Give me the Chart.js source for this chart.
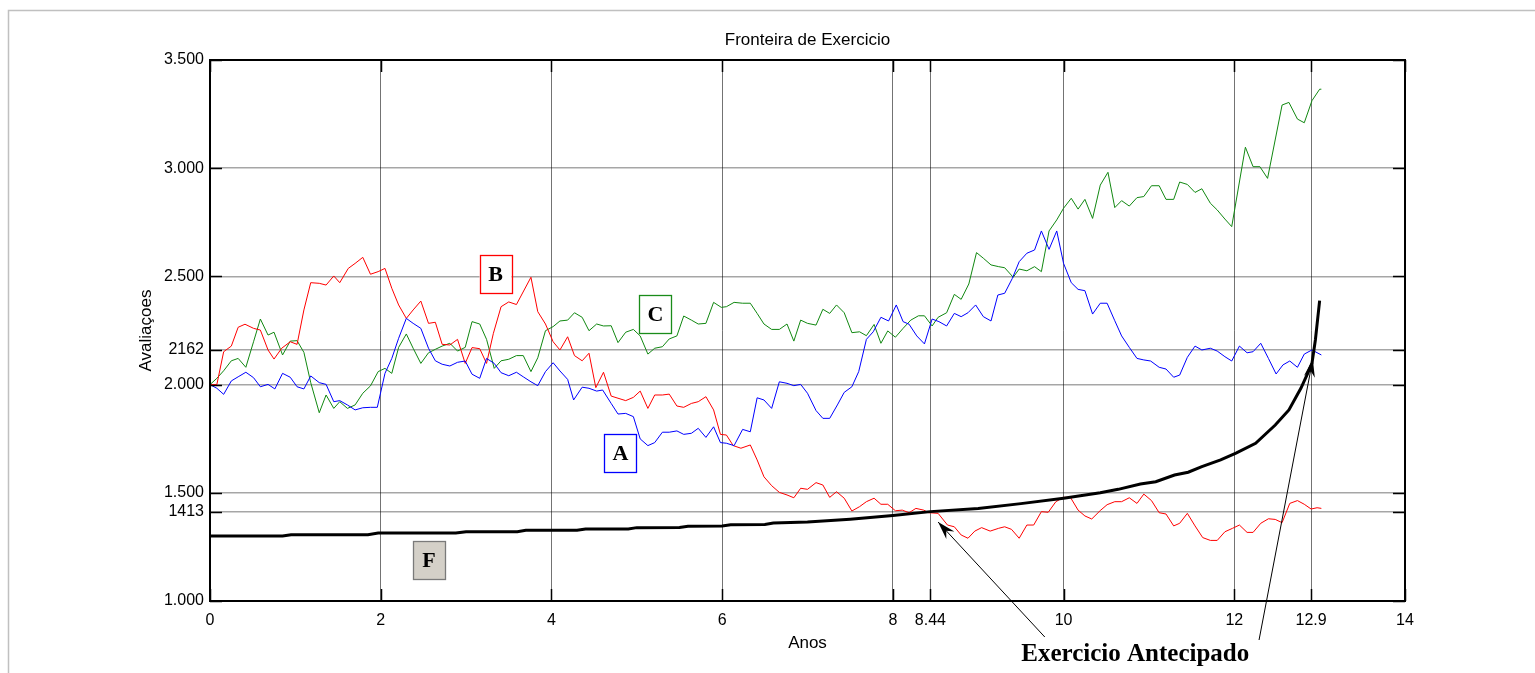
<!DOCTYPE html>
<html>
<head>
<meta charset="utf-8">
<title>Fronteira de Exercicio</title>
<script src="https://cdn.jsdelivr.net/npm/chart.js@4.4.1/dist/chart.umd.min.js"></script>
<style>
  html, body { margin: 0; padding: 0; background: #fff; }
  #wrap { width: 1535px; height: 673px; position: relative; }
</style>
</head>
<body>
<div id="wrap"><canvas id="fronteiraChart"></canvas></div>
<script>
// Axis ticks
const xTickValues = [0, 2, 4, 6, 8, 8.44, 10, 12, 12.9, 14];
const xTickLabels = ['0', '2', '4', '6', '8', '8.44', '10', '12', '12.9', '14'];
const yTickValues = [1000, 1413, 1500, 2000, 2162, 2500, 3000, 3500];
const yTickLabels = ['1.000', '1413', '1.500', '2.000', '2162', '2.500', '3.000', '3.500'];

// Path B (red)
const pathBX = [0, 0.08, 0.16, 0.25, 0.33, 0.41, 0.51, 0.59, 0.68, 0.75, 0.84, 0.94, 1.02, 1.1, 1.18, 1.28, 1.36, 1.45, 1.52, 1.62, 1.7, 1.79, 1.88, 1.97, 2.05, 2.13, 2.21, 2.3, 2.38, 2.47, 2.56, 2.64, 2.72, 2.81, 2.9, 2.99, 3.07, 3.16, 3.24, 3.32, 3.41, 3.5, 3.59, 3.76, 3.84, 3.93, 4.02, 4.1, 4.19, 4.27, 4.36, 4.44, 4.52, 4.61, 4.7, 4.78, 4.87, 4.96, 5.04, 5.13, 5.21, 5.3, 5.38, 5.47, 5.55, 5.64, 5.72, 5.81, 5.9, 5.98, 6.05, 6.13, 6.22, 6.33, 6.41, 6.49, 6.58, 6.67, 6.76, 6.84, 6.92, 7.0, 7.1, 7.18, 7.26, 7.34, 7.43, 7.52, 7.61, 7.69, 7.78, 7.86, 7.94, 8.03, 8.11, 8.19, 8.27, 8.36, 8.42, 8.53, 8.64, 8.72, 8.8, 8.88, 8.96, 9.04, 9.14, 9.24, 9.31, 9.39, 9.48, 9.57, 9.65, 9.74, 9.82, 9.91, 10.0, 10.08, 10.17, 10.25, 10.33, 10.43, 10.51, 10.6, 10.68, 10.77, 10.86, 10.94, 11.03, 11.12, 11.2, 11.29, 11.36, 11.45, 11.54, 11.63, 11.72, 11.8, 11.89, 11.98, 12.06, 12.15, 12.22, 12.31, 12.4, 12.48, 12.56, 12.65, 12.74, 12.82, 12.9, 12.97, 13.02];
const pathBY = [2000, 2000, 2152, 2178, 2265, 2279, 2260, 2252, 2160, 2118, 2168, 2198, 2186, 2345, 2471, 2468, 2460, 2502, 2471, 2537, 2560, 2588, 2510, 2522, 2537, 2445, 2368, 2306, 2345, 2386, 2283, 2288, 2186, 2183, 2209, 2098, 2171, 2166, 2098, 2237, 2360, 2382, 2370, 2496, 2337, 2280, 2198, 2160, 2221, 2134, 2110, 2145, 1986, 2057, 1947, 1937, 1926, 1941, 1970, 1890, 1952, 1952, 1956, 1901, 1895, 1913, 1921, 1944, 1883, 1770, 1767, 1718, 1706, 1721, 1652, 1574, 1533, 1502, 1490, 1477, 1521, 1516, 1547, 1536, 1479, 1505, 1475, 1416, 1436, 1459, 1475, 1447, 1447, 1417, 1420, 1408, 1428, 1420, 1408, 1405, 1351, 1343, 1305, 1290, 1323, 1339, 1323, 1336, 1343, 1331, 1290, 1351, 1351, 1413, 1410, 1459, 1479, 1479, 1420, 1393, 1379, 1418, 1445, 1459, 1459, 1477, 1451, 1494, 1464, 1408, 1402, 1347, 1359, 1405, 1347, 1293, 1280, 1280, 1320, 1336, 1351, 1317, 1317, 1359, 1380, 1377, 1362, 1451, 1464, 1447, 1425, 1431, 1428];

// Path C (green)
const pathCX = [0, 0.08, 0.16, 0.25, 0.33, 0.42, 0.51, 0.59, 0.68, 0.75, 0.85, 0.94, 1.02, 1.1, 1.18, 1.28, 1.36, 1.45, 1.52, 1.61, 1.7, 1.79, 1.88, 1.97, 2.05, 2.13, 2.21, 2.3, 2.38, 2.47, 2.56, 2.64, 2.72, 2.81, 2.9, 2.99, 3.07, 3.16, 3.24, 3.33, 3.41, 3.5, 3.59, 3.67, 3.76, 3.84, 3.93, 4.02, 4.1, 4.19, 4.27, 4.36, 4.44, 4.53, 4.61, 4.7, 4.78, 4.87, 4.96, 5.04, 5.13, 5.21, 5.3, 5.38, 5.47, 5.55, 5.64, 5.72, 5.81, 5.9, 5.99, 6.05, 6.14, 6.24, 6.33, 6.41, 6.49, 6.58, 6.67, 6.76, 6.84, 6.92, 7.0, 7.1, 7.18, 7.26, 7.34, 7.43, 7.52, 7.61, 7.69, 7.78, 7.86, 7.94, 8.03, 8.12, 8.21, 8.3, 8.37, 8.46, 8.53, 8.63, 8.72, 8.8, 8.89, 8.98, 9.06, 9.15, 9.24, 9.31, 9.41, 9.48, 9.57, 9.66, 9.74, 9.83, 9.92, 10.0, 10.09, 10.17, 10.25, 10.34, 10.43, 10.52, 10.6, 10.68, 10.77, 10.86, 10.94, 11.03, 11.12, 11.2, 11.29, 11.36, 11.45, 11.54, 11.62, 11.72, 11.8, 11.89, 11.97, 12.13, 12.22, 12.3, 12.39, 12.56, 12.64, 12.74, 12.82, 12.91, 13.0, 13.02];
const pathCY = [2000, 2029, 2064, 2110, 2121, 2080, 2198, 2303, 2229, 2242, 2137, 2201, 2203, 2149, 2009, 1870, 1952, 1890, 1921, 1890, 1906, 1960, 1994, 2060, 2075, 2052, 2172, 2234, 2168, 2098, 2147, 2163, 2178, 2191, 2155, 2172, 2291, 2280, 2209, 2075, 2110, 2117, 2134, 2134, 2060, 2124, 2249, 2268, 2294, 2298, 2332, 2311, 2249, 2280, 2271, 2272, 2194, 2242, 2255, 2225, 2141, 2168, 2175, 2211, 2225, 2317, 2298, 2280, 2283, 2380, 2357, 2360, 2380, 2376, 2376, 2329, 2280, 2255, 2255, 2280, 2201, 2298, 2283, 2275, 2348, 2329, 2368, 2332, 2240, 2244, 2226, 2278, 2191, 2248, 2219, 2260, 2298, 2318, 2318, 2271, 2311, 2332, 2417, 2394, 2465, 2610, 2584, 2553, 2545, 2540, 2496, 2534, 2526, 2545, 2522, 2710, 2761, 2815, 2861, 2811, 2856, 2768, 2922, 2981, 2818, 2850, 2825, 2864, 2869, 2919, 2919, 2856, 2856, 2936, 2925, 2888, 2905, 2838, 2807, 2765, 2730, 3097, 3007, 3007, 2953, 3292, 3304, 3227, 3210, 3312, 3365, 3365];

// Path A (blue)
const pathAX = [0, 0.08, 0.16, 0.25, 0.33, 0.42, 0.51, 0.59, 0.68, 0.76, 0.85, 0.94, 1.02, 1.1, 1.18, 1.28, 1.36, 1.45, 1.52, 1.61, 1.7, 1.79, 1.88, 1.96, 2.05, 2.13, 2.21, 2.3, 2.38, 2.47, 2.56, 2.64, 2.72, 2.81, 2.9, 2.99, 3.07, 3.16, 3.24, 3.33, 3.41, 3.5, 3.59, 3.67, 3.76, 3.84, 3.93, 4.02, 4.1, 4.19, 4.26, 4.36, 4.44, 4.53, 4.6, 4.7, 4.78, 4.87, 4.96, 5.04, 5.13, 5.21, 5.3, 5.38, 5.47, 5.55, 5.64, 5.72, 5.81, 5.9, 5.98, 6.05, 6.14, 6.24, 6.33, 6.41, 6.49, 6.58, 6.67, 6.76, 6.84, 6.92, 7.0, 7.1, 7.18, 7.26, 7.35, 7.43, 7.52, 7.6, 7.69, 7.77, 7.86, 7.95, 8.04, 8.12, 8.19, 8.28, 8.37, 8.46, 8.54, 8.63, 8.72, 8.8, 8.88, 8.97, 9.06, 9.15, 9.23, 9.31, 9.4, 9.48, 9.57, 9.66, 9.74, 9.83, 9.92, 10.0, 10.09, 10.17, 10.25, 10.34, 10.43, 10.51, 10.6, 10.68, 10.77, 10.86, 10.94, 11.02, 11.12, 11.2, 11.29, 11.36, 11.45, 11.54, 11.62, 11.72, 11.8, 11.89, 11.97, 12.06, 12.15, 12.22, 12.31, 12.4, 12.49, 12.57, 12.65, 12.74, 12.82, 12.91, 13.02];
const pathAY = [2000, 1983, 1955, 2017, 2036, 2057, 2032, 1990, 2001, 1980, 2052, 2034, 1990, 1980, 2040, 2009, 2001, 1921, 1926, 1906, 1883, 1893, 1895, 1895, 2052, 2121, 2214, 2306, 2283, 2260, 2168, 2110, 2094, 2086, 2103, 2109, 2048, 2029, 2121, 2098, 2055, 2041, 2057, 2036, 2013, 1995, 2060, 2101, 2063, 2024, 1929, 1988, 1983, 1970, 1975, 1913, 1864, 1867, 1852, 1749, 1718, 1732, 1780, 1780, 1786, 1770, 1775, 1798, 1756, 1805, 1732, 1729, 1718, 1793, 1782, 1939, 1929, 1890, 2013, 2006, 1995, 2001, 1960, 1880, 1844, 1844, 1906, 1964, 1990, 2060, 2209, 2244, 2311, 2294, 2368, 2291, 2279, 2225, 2188, 2303, 2291, 2271, 2329, 2314, 2332, 2368, 2314, 2294, 2414, 2422, 2491, 2568, 2607, 2622, 2710, 2625, 2710, 2560, 2471, 2440, 2434, 2326, 2376, 2376, 2295, 2225, 2172, 2121, 2114, 2109, 2080, 2072, 2034, 2044, 2126, 2178, 2160, 2168, 2155, 2129, 2109, 2178, 2147, 2152, 2191, 2121, 2049, 2091, 2109, 2080, 2141, 2160, 2137];

// Exercise frontier F (black)
const frontierX = [0, 0.85, 0.95, 1.85, 1.97, 2.88, 3.0, 3.6, 3.7, 4.3, 4.4, 4.9, 5.0, 5.5, 5.6, 6.0, 6.1, 6.5, 6.6, 7.0, 7.5, 8.0, 8.44, 9.0, 9.5, 10.0, 10.43, 10.64, 10.9, 11.08, 11.3, 11.46, 11.62, 11.84, 12.02, 12.25, 12.48, 12.64, 12.78, 12.86, 12.91, 12.95, 13.0];
const frontierY = [1300, 1300, 1306, 1306, 1314, 1314, 1320, 1320, 1327, 1327, 1333, 1333, 1339, 1340, 1345, 1347, 1352, 1354, 1360, 1365, 1378, 1395, 1413, 1428, 1450, 1475, 1500, 1516, 1541, 1551, 1582, 1595, 1621, 1652, 1683, 1729, 1813, 1883, 1983, 2052, 2098, 2206, 2388];

// Text boxes on the paths
const boxLabels = ['B', 'C', 'A', 'F'];
const boxX = [3.345, 5.219, 4.809, 2.566];
const boxY = [2511, 2325, 1683, 1188];

function toPoints(xs, ys) {
    return xs.map((x, i) => ({ x: x, y: ys[i] }));
}

function drawArrow(ctx, x0, y0, x1, y1) {
    ctx.save();
    ctx.strokeStyle = '#000';
    ctx.fillStyle = '#000';
    ctx.lineWidth = 1;
    ctx.beginPath();
    ctx.moveTo(x0, y0);
    ctx.lineTo(x1, y1);
    ctx.stroke();
    const ang = Math.atan2(y1 - y0, x1 - x0);
    const ux = Math.cos(ang), uy = Math.sin(ang);
    const nx = -uy, ny = ux;
    const len = 18, half = 5.5, notch = 12;
    const bx = x1 - ux * len, by = y1 - uy * len;
    ctx.beginPath();
    ctx.moveTo(x1, y1);
    ctx.lineTo(bx + nx * half, by + ny * half);
    ctx.lineTo(x1 - ux * notch, y1 - uy * notch);
    ctx.lineTo(bx - nx * half, by - ny * half);
    ctx.closePath();
    ctx.fill();
    ctx.restore();
}

const framePlugin = {
    id: 'frame',
    beforeDraw(chart) {
        const ctx = chart.ctx;
        ctx.save();
        ctx.fillStyle = '#fff';
        ctx.fillRect(0, 0, chart.width, chart.height);
        // figure border
        ctx.strokeStyle = '#c0c0c0';
        ctx.lineWidth = 1.5;
        ctx.beginPath();
        ctx.moveTo(8.5, chart.height);
        ctx.lineTo(8.5, 10.5);
        ctx.lineTo(chart.width, 10.5);
        ctx.stroke();
        ctx.restore();
    },
    afterDatasetsDraw(chart) {
        const ctx = chart.ctx;
        const a = chart.chartArea;
        const xs = chart.scales.x, ys = chart.scales.y;
        ctx.save();
        ctx.strokeStyle = '#000';
        ctx.lineWidth = 2;
        ctx.strokeRect(a.left, a.top, a.right - a.left, a.bottom - a.top);
        // inward tick marks on all four sides
        ctx.lineWidth = 1.5;
        ctx.beginPath();
        xTickValues.forEach(v => {
            const px = Math.round(xs.getPixelForValue(v)) + 0.5;
            ctx.moveTo(px, a.bottom); ctx.lineTo(px, a.bottom - 12);
            ctx.moveTo(px, a.top); ctx.lineTo(px, a.top + 12);
        });
        yTickValues.forEach(v => {
            const py = Math.round(ys.getPixelForValue(v)) + 0.5;
            ctx.moveTo(a.left, py); ctx.lineTo(a.left + 12, py);
            ctx.moveTo(a.right, py); ctx.lineTo(a.right - 12, py);
        });
        ctx.stroke();
        ctx.restore();
    },
    afterDraw(chart) {
        const ctx = chart.ctx;
        const a = chart.chartArea;
        const xs = chart.scales.x, ys = chart.scales.y;
        ctx.save();
        ctx.fillStyle = '#000';
        ctx.textAlign = 'center';
        ctx.textBaseline = 'middle';
        ctx.font = '17px "Liberation Sans", Arial, sans-serif';
        ctx.fillText('Fronteira de Exercicio', (a.left + a.right) / 2, 40);
        ctx.fillText('Anos', (a.left + a.right) / 2, 643);
        ctx.save();
        ctx.translate(146, (a.top + a.bottom) / 2);
        ctx.rotate(-Math.PI / 2);
        ctx.fillText('Avaliaçoes', 0, 0);
        ctx.restore();

        // text boxes A, B, C, F
        const edge = ['#ff0000', '#1a8c1a', '#0000ff', '#7a7a7a'];
        const fill = ['#ffffff', '#ffffff', '#ffffff', '#d4d0c8'];
        boxLabels.forEach((lab, i) => {
            const cx = xs.getPixelForValue(boxX[i]);
            const cy = ys.getPixelForValue(boxY[i]);
            const w = 32, h = 38;
            ctx.fillStyle = fill[i];
            ctx.fillRect(cx - w / 2, cy - h / 2, w, h);
            ctx.strokeStyle = edge[i];
            ctx.lineWidth = 1.3;
            ctx.strokeRect(Math.round(cx - w / 2) + 0.5, Math.round(cy - h / 2) + 0.5, w, h);
            ctx.fillStyle = '#000';
            ctx.font = 'bold 22px "Liberation Serif", "Times New Roman", serif';
            ctx.fillText(lab, cx, cy + 1);
        });

        // early exercise arrows
        drawArrow(ctx, xs.getPixelForValue(9.78), a.bottom + 36,
            xs.getPixelForValue(8.53), ys.getPixelForValue(1365));
        drawArrow(ctx, xs.getPixelForValue(12.29), a.bottom + 39,
            xs.getPixelForValue(12.92), ys.getPixelForValue(2118));
        ctx.fillStyle = '#000';
        ctx.textBaseline = 'alphabetic';
        ctx.font = 'bold 25px "Liberation Serif", "Times New Roman", serif';
        ctx.fillText('Exercicio Antecipado', xs.getPixelForValue(10.84), a.bottom + 60);
        ctx.restore();
    }
};

const ctx = document.getElementById('fronteiraChart').getContext('2d');
new Chart(ctx, {
    type: 'line',
    data: {
        datasets: [
            { label: 'F', data: toPoints(frontierX, frontierY), borderColor: '#000000', borderWidth: 3 },
            { label: 'A', data: toPoints(pathAX, pathAY), borderColor: '#0000ff', borderWidth: 1 },
            { label: 'B', data: toPoints(pathBX, pathBY), borderColor: '#ff0000', borderWidth: 1 },
            { label: 'C', data: toPoints(pathCX, pathCY), borderColor: '#118811', borderWidth: 1 }
        ]
    },
    options: {
        responsive: true,
        maintainAspectRatio: false,
        animation: false,
        elements: {
            point: { radius: 0, hoverRadius: 0 },
            line: { tension: 0, fill: false }
        },
        layout: {
            padding: { left: 0, right: 130, top: 60, bottom: 0 }
        },
        plugins: {
            legend: { display: false },
            tooltip: { enabled: false },
            title: { display: false }
        },
        scales: {
            x: {
                type: 'linear',
                min: 0,
                max: 14,
                afterFit: function(scale) { scale.height = 72; },
                afterBuildTicks: function(scale) {
                    scale.ticks = xTickValues.map(v => ({ value: v }));
                },
                grid: { color: 'rgba(0, 0, 0, 0.55)', lineWidth: 1, drawTicks: false },
                border: { display: false },
                ticks: {
                    autoSkip: false,
                    maxRotation: 0,
                    padding: 10,
                    color: '#000',
                    font: { family: '"Liberation Sans", Arial, sans-serif', size: 16 },
                    callback: function(value) {
                        const i = xTickValues.indexOf(value);
                        return i >= 0 ? xTickLabels[i] : '';
                    }
                }
            },
            y: {
                type: 'linear',
                min: 1000,
                max: 3500,
                afterFit: function(scale) { scale.width = 210; },
                afterBuildTicks: function(scale) {
                    scale.ticks = yTickValues.map(v => ({ value: v }));
                },
                grid: { color: 'rgba(0, 0, 0, 0.35)', lineWidth: 1.5, drawTicks: false },
                border: { display: false },
                ticks: {
                    autoSkip: false,
                    padding: 6,
                    color: '#000',
                    font: { family: '"Liberation Sans", Arial, sans-serif', size: 16 },
                    callback: function(value) {
                        const i = yTickValues.indexOf(value);
                        return i >= 0 ? yTickLabels[i] : '';
                    }
                }
            }
        }
    },
    plugins: [framePlugin]
});
</script>
</body>
</html>
